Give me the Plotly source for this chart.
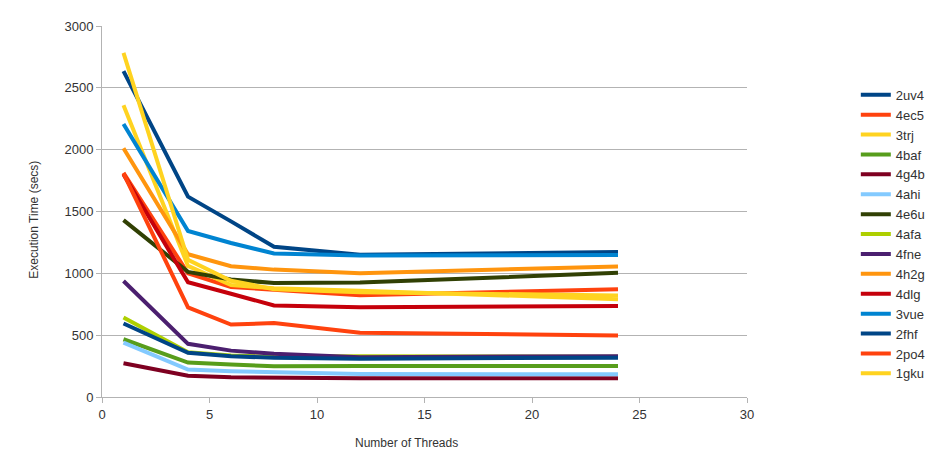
import plotly.graph_objects as go

threads = [1, 4, 6, 8, 12, 24]

names = ["2uv4", "4ec5", "3trj", "4baf", "4g4b", "4ahi", "4e6u", "4afa",
         "4fne", "4h2g", "4dlg", "3vue", "2fhf", "2po4", "1gku"]

s_2uv4 = [2635, 1620, 1420, 1215, 1150, 1172]
s_4ec5 = [1812, 1000, 890, 870, 822, 872]
s_3trj = [2360, 1060, 905, 880, 860, 790]
s_4baf = [467, 278, 262, 248, 250, 251]
s_4g4b = [273, 172, 160, 158, 152, 152]
s_4ahi = [440, 222, 208, 198, 186, 184]
s_4e6u = [1430, 1012, 950, 922, 925, 1004]
s_4afa = [642, 362, 335, 325, 330, 325]
s_4fne = [938, 430, 375, 350, 322, 330]
s_4h2g = [2012, 1155, 1058, 1030, 1000, 1056]
s_4dlg = [1800, 928, 835, 740, 726, 735]
s_3vue = [2208, 1342, 1245, 1160, 1145, 1148]
s_2fhf = [594, 358, 330, 317, 310, 318]
s_2po4 = [1808, 724, 586, 598, 520, 498]
s_1gku = [2782, 1110, 940, 872, 848, 820]

series = [s_2uv4, s_4ec5, s_3trj, s_4baf, s_4g4b, s_4ahi, s_4e6u, s_4afa,
          s_4fne, s_4h2g, s_4dlg, s_3vue, s_2fhf, s_2po4, s_1gku]

colors = ["#004586", "#ff420e", "#ffd320", "#579d1c", "#7e0021", "#83caff",
          "#314004", "#aecf00", "#4b1f6f", "#ff950e", "#c5000b", "#0084d1",
          "#004586", "#ff420e", "#ffd320"]

fig = go.Figure()
for n, s, c in zip(names, series, colors):
    fig.add_trace(go.Scatter(x=threads, y=s, name=n, mode="lines",
                             line=dict(color=c, width=4)))

axis_common = dict(
    showline=True, linecolor="#b3b3b3", linewidth=1,
    ticks="outside", tickcolor="#b3b3b3", ticklen=5,
    tickfont=dict(family="Liberation Sans", size=13, color="#333333"),
    zeroline=False,
)

PW = 652  # plot width in px

fig.update_layout(
    width=934, height=451,
    margin=dict(l=94, r=934 - 94 - PW, t=18, b=62),
    paper_bgcolor="white", plot_bgcolor="white",
    font=dict(family="Liberation Sans", size=13, color="#333333"),
    xaxis=dict(range=[0, 30], dtick=5, showgrid=False, **axis_common),
    yaxis=dict(range=[0, 3000], dtick=500, showgrid=True, gridcolor="#b3b3b3",
               gridwidth=1, **axis_common),
    legend=dict(x=(864 - 102) / PW, y=0.855, xanchor="left", yanchor="top",
                font=dict(family="Liberation Sans", size=13, color="#333333"),
                tracegroupgap=0, itemwidth=30, bgcolor="rgba(0,0,0,0)"),
    annotations=[
        dict(text="Number of Threads", xref="paper", yref="paper",
             x=(409.5 - 102) / PW, y=-(443 - 397) / 371, xanchor="center", yanchor="middle",
             showarrow=False, font=dict(family="Liberation Sans", size=12, color="#333333")),
        dict(text="Execution Time (secs)", xref="paper", yref="paper",
             x=-(102 - 33) / PW, y=(397 - 220) / 371, xanchor="center", yanchor="middle",
             textangle=-90,
             showarrow=False, font=dict(family="Liberation Sans", size=12, color="#333333")),
    ],
)

fig.write_html("out.html")
